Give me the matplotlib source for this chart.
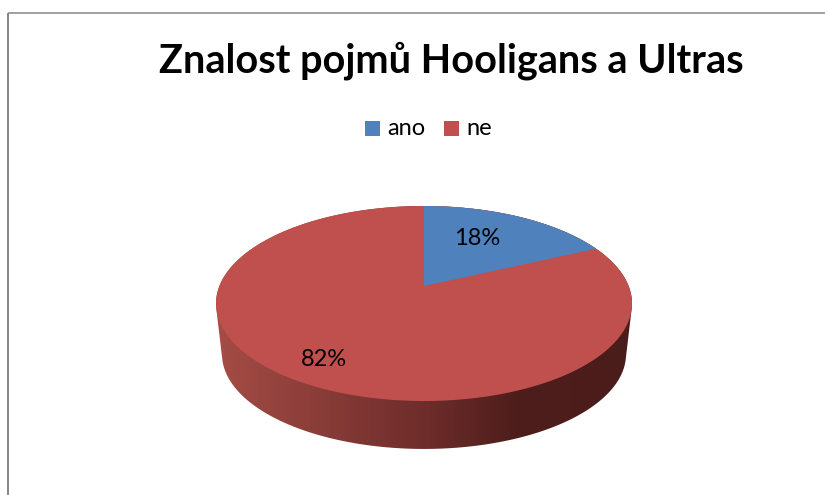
import numpy as np
import matplotlib
matplotlib.use("Agg")
import matplotlib.pyplot as plt
from matplotlib.patches import Polygon, Rectangle
from matplotlib.colors import LinearSegmentedColormap

title = "Znalost pojmů Hooligans a Ultras"
categories = ["ano", "ne"]
values = [18, 82]
labels = ["18%", "82%"]
colors = ["#4F81BD", "#C0504D"]

plt.rcParams['font.family'] = ['Lato', 'DejaVu Sans']
fig = plt.figure(figsize=(8.25, 4.95), dpi=100)
ax = fig.add_axes([0, 0, 1, 1])
ax.set_xlim(0, 825)
ax.set_ylim(495, 0)
ax.axis('off')

# chart frame
ax.plot([8, 8], [495, 12.6], color="#868686", lw=1.4, solid_capstyle='butt')
ax.plot([8, 825], [12.6, 12.6], color="#868686", lw=1.1, solid_capstyle='butt')

# perspective projection of a disc
K = 0.1795
def proj(theta, r=1.0, cx=424, cy=286, c=204.6, a=94.36):
    u, v = r * np.sin(theta), r * np.cos(theta)
    w = 1 + K * v
    return cx + c * u / w, cy - a * v / w

t = np.linspace(0, 2 * np.pi, 721)
xt, yt = proj(t)
xb, yb = proj(t, cy=337.3, c=198.7, a=91.6)

# side wall with horizontal gradient
pts = np.vstack([np.column_stack([xt, yt]), np.column_stack([xb, yb])])
def hull(p):
    p = sorted(map(tuple, p))
    def half(q):
        h = []
        for pt in q:
            while len(h) > 1 and (h[-1][0]-h[-2][0])*(pt[1]-h[-2][1]) - (h[-1][1]-h[-2][1])*(pt[0]-h[-2][0]) <= 0:
                h.pop()
            h.append(pt)
        return h
    lo, up = half(p), half(p[::-1])
    return np.array(lo[:-1] + up[:-1])
wall = Polygon(hull(pts), closed=True, transform=ax.transData, fc='none', ec='none')
ax.add_patch(wall)
cmap = LinearSegmentedColormap.from_list("side", [(0, "#A54C45"), (0.5, "#6E2D2B"), (0.72, "#4E1E1C"), (1, "#4A1C1A")])
im = ax.imshow(np.linspace(0, 1, 256)[None, :], cmap=cmap, extent=[216, 632, 460, 200], aspect='auto', zorder=1)
im.set_clip_path(wall)
ax.set_xlim(0, 825)
ax.set_ylim(495, 0)

# top surface
ax.add_patch(Polygon(np.column_stack([xt, yt]), closed=True, fc=colors[1], ec='none', zorder=2))
frac = np.cumsum(values) / np.sum(values)
tb = np.linspace(0, 2 * np.pi * frac[0], 200)
xs, ys = proj(tb)
ax.add_patch(Polygon(np.vstack([[proj(0, r=0)], np.column_stack([xs, ys])]), closed=True, fc=colors[0], ec='none', zorder=3))

# text
ax.text(451.5, 61, title, fontsize=28.5, fontweight='bold', ha='center', va='center', color='black', zorder=5)
ax.text(477.5, 238.5, labels[0], fontsize=17, ha='center', va='center', color='black', zorder=5)
ax.text(323.5, 359.5, labels[1], fontsize=17, ha='center', va='center', color='black', zorder=5)

# legend
for x0, tx, cat, col in zip([365, 444], [387, 466], categories, colors):
    ax.add_patch(Rectangle((x0, 121), 15, 15, fc=col, ec='none', zorder=4))
    ax.text(tx, 128.5, cat, fontsize=17, ha='left', va='center', color='black', zorder=5)

fig.savefig("out.png", dpi=100)
